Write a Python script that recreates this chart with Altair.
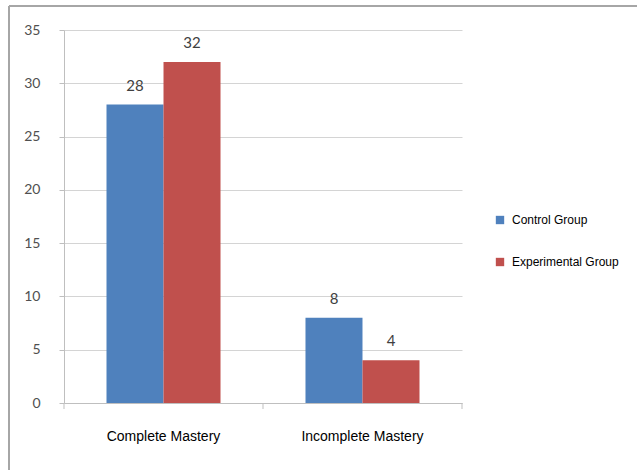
import altair as alt
import pandas as pd

categories = ["Complete Mastery", "Incomplete Mastery"]
groups = ["Control Group", "Experimental Group"]
control = [28, 8]
experimental = [32, 4]
colors = ["#4F81BD", "#C0504D"]

rows = []
for i, c in enumerate(categories):
    rows.append({"category": c, "group": groups[0], "value": control[i]})
    rows.append({"category": c, "group": groups[1], "value": experimental[i]})
df = pd.DataFrame(rows)

W, H = 398, 373
NUM_FONT = "Lato"

x_enc = alt.X("category:N", sort=categories,
              scale=alt.Scale(paddingInner=0.427, paddingOuter=0.2136),
              axis=alt.Axis(title=None, labelAngle=0, ticks=False, domain=True,
                            domainColor="#bfbfbf", labelFont="Liberation Sans",
                            labelFontSize=14, labelColor="#000000", labelPadding=26))
xo_enc = alt.XOffset("group:N", sort=groups, scale=alt.Scale(paddingInner=0, paddingOuter=0))

base = alt.Chart(df)

bars = base.mark_bar().encode(
    x=x_enc,
    xOffset=xo_enc,
    y=alt.Y("value:Q", scale=alt.Scale(domain=[0, 35]),
            axis=alt.Axis(title=None, values=[0, 5, 10, 15, 20, 25, 30, 35],
                          grid=True, gridColor="#d4d4d4", domainColor="#bfbfbf",
                          tickColor="#bfbfbf", tickSize=5, labelPadding=19,
                          labelFont=NUM_FONT, labelFontSize=14,
                          labelColor="#505050")),
    color=alt.Color("group:N", sort=groups,
                    scale=alt.Scale(domain=groups, range=colors),
                    legend=alt.Legend(title=None, orient="none", legendX=430, legendY=184,
                                      symbolType="square", symbolSize=70,
                                      symbolStrokeWidth=0, rowPadding=30,
                                      labelFont="Liberation Sans", labelFontSize=12,
                                      labelColor="#000000", labelOffset=6, padding=0)),
)

labels = base.mark_text(baseline="alphabetic", dy=-14, font=NUM_FONT,
                        fontSize=15, color="#404040").encode(
    x=alt.X("category:N", sort=categories),
    xOffset=alt.XOffset("group:N", sort=groups),
    y="value:Q",
    text="value:Q",
)

one = alt.Data(values=[{}])
frame_top = alt.Chart(one).mark_rule(color="#a6a6a6", strokeWidth=2).encode(
    x=alt.value(-55), x2=alt.value(580), y=alt.value(-24))
frame_left = alt.Chart(one).mark_rule(color="#a6a6a6", strokeWidth=2).encode(
    x=alt.value(-55), y=alt.value(-24), y2=alt.value(445))
ticks = [
    alt.Chart(one).mark_rule(color="#bfbfbf").encode(
        x=alt.value(px), y=alt.value(H), y2=alt.value(H + 6))
    for px in (0, W / 2, W)
]

chart = alt.layer(bars, labels, frame_top, frame_left, *ticks).properties(
    width=W, height=H,
    autosize=alt.AutoSizeParams(type="none"),
    padding={"left": 64, "top": 30, "right": 637 - 64 - W, "bottom": 470 - 30 - H},
    background="white",
).configure_view(stroke=None)

chart.save("out.html", embed_options={"renderer": "svg", "actions": False})
